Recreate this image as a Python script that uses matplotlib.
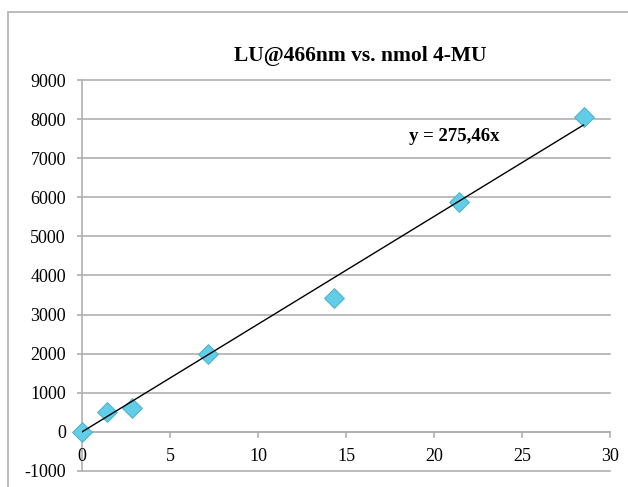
import matplotlib.pyplot as plt
from matplotlib.patches import Rectangle
import numpy as np

# nmol 4-MU vs. luminescence units at 466 nm
nmol = [0, 1.43, 2.86, 7.14, 14.3, 21.4, 28.5]
lu = [0, 500, 600, 2000, 3420, 5870, 8050]
slope = 275.46

plt.rcParams['font.family'] = ['Liberation Serif', 'DejaVu Serif']
plt.rcParams['axes.unicode_minus'] = False

fig = plt.figure(figsize=(6.28, 4.87), dpi=100)
ax = fig.add_axes([0.1306, 0.0329, 0.8407, 0.8028])

# chart frame (clipped at the right/bottom like the screenshot)
fig.patches.append(Rectangle((0.0135, -0.05), 1.1, 1.025, transform=fig.transFigure,
                             fill=False, edgecolor='#b0b0b0', linewidth=1.2))

ax.set_xlim(0, 30)
ax.set_ylim(-1000, 9000)
ax.set_xticks(np.arange(0, 31, 5))
ax.set_yticks(np.arange(-1000, 9001, 1000))
ax.yaxis.grid(True, color='#b0b0b0', linewidth=1.2)
for gl in ax.get_ygridlines():
    gl.set_clip_on(False)
ax.set_axisbelow(True)

for s in ['top', 'right', 'bottom']:
    ax.spines[s].set_visible(False)
ax.spines['left'].set_color('#b0b0b0')
ax.spines['left'].set_linewidth(1.2)
ax.axhline(0, color='#b0b0b0', linewidth=1.2, zorder=1)
ax.tick_params(axis='x', length=0, pad=0)
ax.tick_params(axis='y', length=3.6, width=1.2, color='#b0b0b0', pad=8, labelsize=13)
ax.set_xticklabels([])
for xv in ax.get_xticks():
    ax.plot([xv, xv], [0, -120], color='#b0b0b0', linewidth=1.2, clip_on=False, zorder=1)
    ax.text(xv, -620, f'{xv:g}', ha='center', va='center', fontsize=13)

# markers first, trendline drawn over them
ax.scatter(nmol, lu, marker='D', s=100, color='#62cde6', edgecolors='#4fb5cf',
           linewidths=0.8, zorder=4, clip_on=False)
xs = np.array([0, max(nmol)])
ax.plot(xs, slope * xs, color='black', linewidth=1, zorder=5)

ax.text(21.15, 7430, f'y = {slope:.2f}x'.replace('.', ','), fontsize=13.5,
        fontweight='bold', ha='center', va='baseline')
fig.text(0.574, 0.886, 'LU@466nm vs. nmol 4-MU', fontsize=15.5, fontweight='bold',
         ha='center', va='center')

fig.savefig('out.png', dpi=100, facecolor='white')
